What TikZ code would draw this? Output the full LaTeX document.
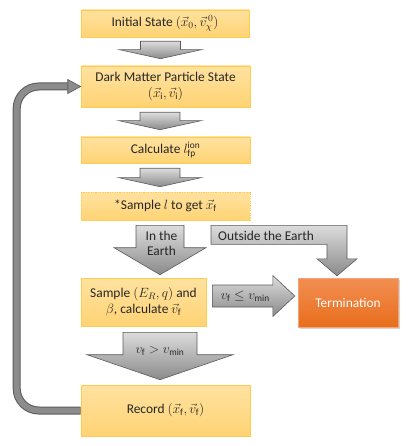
\RequirePackage{fix-cm}
\documentclass[tikz,border=0pt]{standalone}
\usepackage{fontspec}
\setmainfont{Carlito}
\usepackage{tikz}
\usetikzlibrary{calc,shadows}
\definecolor{boxtop}{HTML}{FFE2A0}
\definecolor{boxbot}{HTML}{FFD374}
\definecolor{boxline}{HTML}{FFCC50}
\definecolor{termtop}{HTML}{F28E52}
\definecolor{termbot}{HTML}{E86E1C}
\definecolor{arrtop}{HTML}{DCDCDC}
\definecolor{arrbot}{HTML}{8A8A8A}
\definecolor{arrline}{HTML}{5A5A5A}
\definecolor{loopgray}{HTML}{8C8C8C}
\definecolor{txtdark}{HTML}{262626}
\tikzset{
  stepbox/.style={top color=boxtop,bottom color=boxbot,draw=boxline,line width=0.6pt,
    align=center,text=txtdark,inner sep=2pt},
  endbox/.style={top color=termtop,bottom color=termbot,draw=termtop!80!white,line width=0.4pt,
    text=white,align=center,drop shadow={opacity=0.35,shadow xshift=1.5pt,shadow yshift=-1.5pt}},
  flowarrow/.style={top color=arrtop,bottom color=arrbot,draw=arrline,line width=0.6pt},
  arrowlabel/.style={text=txtdark,align=center,inner sep=0pt}
}
% vertical block arrow: top point, tip point, shaft half width, head half width, head length
\newcommand{\downblock}[5]{%
  \path[flowarrow] let \p1=#1, \p2=#2 in
    (\x2-#3pt,\y1) -- (\x2+#3pt,\y1) -- (\x2+#3pt,\y2+#5pt) -- (\x2+#4pt,\y2+#5pt)
    -- (\x2,\y2) -- (\x2-#4pt,\y2+#5pt) -- (\x2-#3pt,\y2+#5pt) -- cycle;}
% horizontal block arrow: start point, tip point, shaft half width, head half width, head length
\newcommand{\rightblock}[5]{%
  \path[flowarrow] let \p1=#1, \p2=#2 in
    (\x1,\y2+#3pt) -- (\x2-#5pt,\y2+#3pt) -- (\x2-#5pt,\y2+#4pt) -- (\x2,\y2)
    -- (\x2-#5pt,\y2-#4pt) -- (\x2-#5pt,\y2-#3pt) -- (\x1,\y2-#3pt) -- cycle;}
\begin{document}
\begin{tikzpicture}[x=1pt,y=-1pt,font=\fontsize{13.4}{15.5}\selectfont]
  \useasboundingbox (0,0) rectangle (416,446);
  % Steps
  \node[stepbox,minimum width=168pt,minimum height=27pt] (init) at (165,23.5)
    {Initial State $(\vec{x}_0,\vec{v}_\chi^{\,0})$};
  \node[stepbox,minimum width=169pt,minimum height=41pt] (dm) at (165.5,86.5)
    {Dark Matter Particle State\\$(\vec{x}_\mathrm{i},\vec{v}_\mathrm{i})$};
  \node[stepbox,minimum width=169pt,minimum height=26pt] (calc) at (165.5,150)
    {Calculate $l_\mathrm{fp}^\mathrm{ion}$};
  \node[stepbox,dashed,dash pattern=on 1.2pt off 1.2pt,minimum width=169pt,minimum height=28pt] (samp) at (165.5,206)
    {*Sample $l$ to get $\vec{x}_\mathrm{f}$};
  \node[stepbox,minimum width=125pt,minimum height=48pt] (samq) at (143.5,302)
    {Sample $(E_R,q)$ and\\$\beta$, calculate $\vec{v}_\mathrm{f}$};
  \node[stepbox,minimum width=169pt,minimum height=51pt] (rec) at (165.5,410.5)
    {Record $(\vec{x}_\mathrm{f},\vec{v}_\mathrm{f})$};
  % Termination
  \node[endbox,minimum width=100pt,minimum height=49pt] (term) at (348,302.5) {Termination};
  % Block arrows
  \downblock{($(init.south)+(0,4)$)}{($(dm.north)+(-5,-7)$)}{20}{41}{9}
  \downblock{($(dm.south)+(0,5)$)}{($(calc.north)+(-5.5,-7)$)}{20}{41}{9}
  \downblock{($(calc.south)+(0,5)$)}{($(samp.north)+(-5.5,-5)$)}{20}{41}{9}
  \downblock{($(samp.south)+(0,5)$)}{($(samq.north)+(16.5,-3)$)}{24}{46}{27}
  \downblock{($(samq.south)+(0,6)$)}{($(rec.north)+(-5.5,-5)$)}{37}{73}{25}
  \rightblock{($(samq.east)+(6,0)$)}{($(term.west)+(-3,-6.5)$)}{11}{20.5}{22}
  % Outside the Earth
  \path[flowarrow] let \p1=($(samp.south)+(45.5,5)$), \p2=($(term.north)+(-11,-2)$) in
    (\x1,\y1) -- (\x2+10pt,\y1) -- (\x2+10pt,\y2+17pt) -- (\x2+20pt,\y2+17pt) -- (\x2,\y2)
    -- (\x2-20pt,\y2+17pt) -- (\x2-10pt,\y2+17pt) -- (\x2-10pt,\y1-19pt) -- (\x1,\y1-19pt) -- cycle;
  % Loop back
  \coordinate (loophead) at ($(dm.west)+(-13,0)$);
  \draw[arrline,line width=8pt,rounded corners=22pt]
    (rec.west) -- ++(-64,0) |- (loophead);
  \draw[loopgray,line width=6pt,rounded corners=22pt]
    (rec.west) -- ++(-64,0) |- (loophead);
  \path[fill=loopgray,draw=arrline,line width=0.6pt]
    ($(loophead)+(0,-7)$) -- (dm.west) -- ($(loophead)+(0,7)$) -- cycle;
  % Arrow labels
  \node[arrowlabel] at ($(samp.south)+(-4,23)$) {In the\\Earth};
  \node[arrowlabel] at ($(samp.south)+(100.5,16)$) {Outside the Earth};
  \node[arrowlabel] at ($(samq.east)+(39,-6)$) {$v_\mathrm{f}\le v_\mathrm{min}$};
  \node[arrowlabel] at ($(samq.south)+(16.5,25)$) {$v_\mathrm{f}>v_\mathrm{min}$};
\end{tikzpicture}
\end{document}
